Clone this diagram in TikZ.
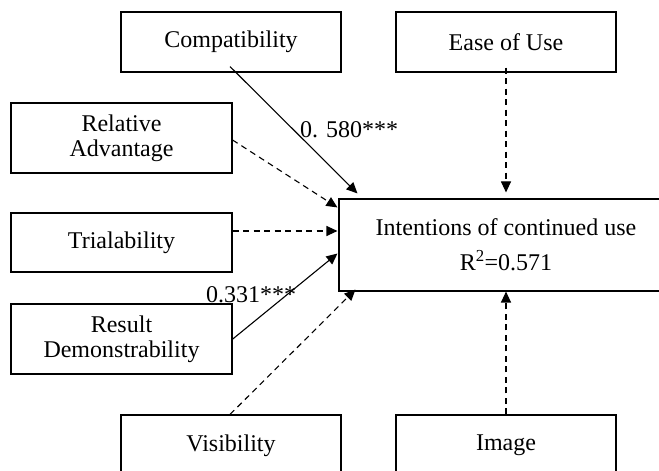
\documentclass[tikz,border=0pt]{standalone}
\usepackage{fontspec}
\setmainfont{Liberation Serif}
\usetikzlibrary{arrows.meta,calc}
\begin{document}
\begin{tikzpicture}[x=1pt,y=1pt,
  every node/.style={font=\fontsize{24}{25}\selectfont},
  factor/.style={draw,line width=1.1pt,rectangle,inner sep=0pt,align=center},
  coef/.style={inner sep=0pt,anchor=base west},
  path link/.style={line width=1.1pt,-{Triangle[length=11pt,width=10pt]}},
  sig/.style={path link},
  nonsig/.style={path link,dash pattern=on 6pt off 4.5pt}]
\useasboundingbox (0,0) rectangle (659,471);
\clip (0,0) rectangle (659,471);
% predictor constructs
\node[factor,minimum width=220pt,minimum height=60pt] (comp) at (231,429) {Compatibility};
\node[factor,minimum width=220pt,minimum height=60pt] (ease) at (506,429) {Ease of Use};
\node[factor,minimum width=221pt,minimum height=70pt] (rel) at (121.5,333) {Relative\\Advantage};
\node[factor,minimum width=221pt,minimum height=59pt] (trial) at (121.5,228.5) {Trialability};
\node[factor,minimum width=221pt,minimum height=70pt] (result) at (121.5,132) {Result\\Demonstrability};
\node[factor,minimum width=220pt,minimum height=61pt] (vis) at (231,25.5) {Visibility};
\node[factor,minimum width=220pt,minimum height=61pt] (img) at (506,25.5) {Image};
% outcome construct
\node[factor,minimum width=334pt,minimum height=92pt] (intent) at (506,226)
  {Intentions of continued use\\[10pt]R\textsuperscript{2}=0.571};
% paths
\draw[sig] ($(comp.south)+(-1,6)$) -- ($(intent.north west)+(19,5)$);
\draw[nonsig] ($(ease.south)+(0,5)$) -- ($(intent.north)+(0,6)$);
\draw[nonsig] ($(rel.east)+(0,-2)$) -- ($(intent.north west)+(-1,-9)$);
\draw[nonsig] ($(trial.east)+(0,11.5)$) -- ($(intent.west)+(-1,14)$);
\draw[sig] ($(result.east)+(-1,-1)$) -- ($(intent.south west)+(-1,38)$);
\draw[nonsig] ($(vis.north)+(-1,0)$) -- ($(intent.south west)+(17,2)$);
\draw[nonsig] (img.north) -- (intent.south);
% path coefficients
\node[coef] (c1) at (300,333) {0. 580***};
\node[coef] (c2) at (206,168) {0.331***};
\end{tikzpicture}
\end{document}
